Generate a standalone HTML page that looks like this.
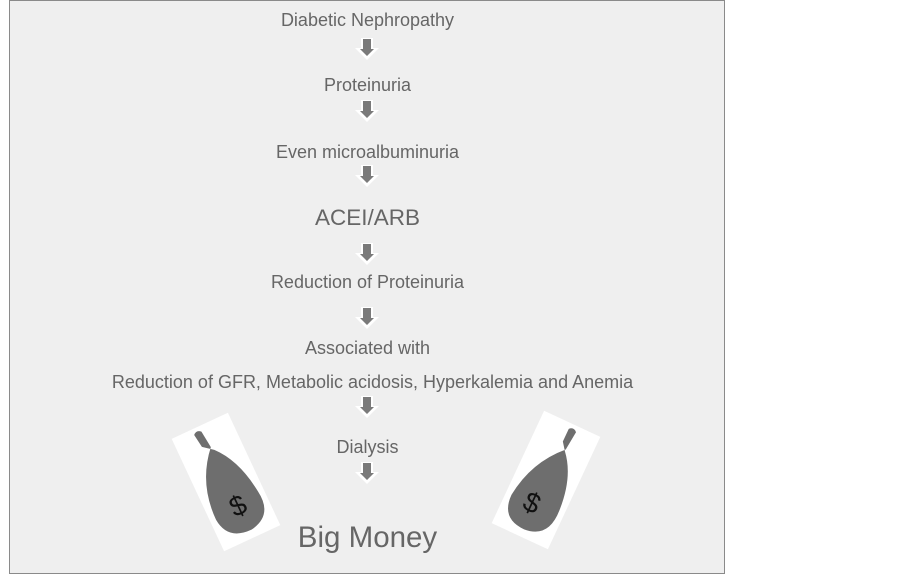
<!DOCTYPE html>
<html><head><style>
body{margin:0;width:902px;height:578px;background:#fff;position:relative;overflow:hidden;font-family:"Liberation Sans",Arial,sans-serif}
.box{position:absolute;left:9px;top:0;width:716px;height:574px;background:#efefef;border:1px solid #8a8a8a;box-sizing:border-box}
.t{position:absolute;left:0;width:735px;text-align:center;color:#666;font-size:18px;line-height:20px}
.a{position:absolute;left:355px;width:24px;height:22px}
.bag{position:absolute;width:62px;height:124px;background:#fff}
</style></head><body>
<div class="box"></div>
<div class="t" style="top:10px">Diabetic Nephropathy</div>
<div class="t" style="top:75px">Proteinuria</div>
<div class="t" style="top:142px">Even microalbuminuria</div>
<div class="t" style="top:206px;font-size:22.5px;line-height:24px">ACEI/ARB</div>
<div class="t" style="top:272px">Reduction of Proteinuria</div>
<div class="t" style="top:338px">Associated with</div>
<div class="t" style="top:372px;left:5px">Reduction of GFR, Metabolic acidosis, Hyperkalemia and Anemia</div>
<div class="t" style="top:437px">Dialysis</div>
<div class="t" style="top:521px;font-size:29.5px;line-height:34px">Big Money</div>
<svg width="0" height="0" style="position:absolute"><defs><g id="ar"><polygon points="6,0 18,0 18,10 24,10 12,22 0,10 6,10" fill="#fff"/><polygon points="8,1 16,1 16,11 19,11 12,18 5,11 8,11" fill="#7a7a7a"/></g></defs></svg>
<svg class="a" style="top:38px"><use href="#ar"/></svg>
<svg class="a" style="top:100px"><use href="#ar"/></svg>
<svg class="a" style="top:165px"><use href="#ar"/></svg>
<svg class="a" style="top:243px"><use href="#ar"/></svg>
<svg class="a" style="top:307px"><use href="#ar"/></svg>
<svg class="a" style="top:396px"><use href="#ar"/></svg>
<svg class="a" style="top:462px"><use href="#ar"/></svg>
<div class="bag" style="left:195px;top:420px;transform:rotate(-25deg)">
<svg width="62" height="124"><path d="M24 20 L22 6 Q26 2 30 6 L32 24 Q6 52 6 92 Q8 116 34 116 Q60 112 56 84 Q52 48 34 28 Z" fill="#6e6e6e"/><text x="24" y="98" font-size="28" fill="#111" font-family="Liberation Sans">$</text></svg></div>
<div class="bag" style="left:515px;top:418px;transform:rotate(25deg)">
<svg width="62" height="124"><path d="M30 20 L30 6 Q34 2 38 6 L36 26 Q10 52 6 90 Q6 116 32 116 Q58 114 56 84 Q54 48 36 28 Z" fill="#6e6e6e"/><text x="20" y="98" font-size="28" fill="#111" font-family="Liberation Sans">$</text></svg></div>
</body></html>
